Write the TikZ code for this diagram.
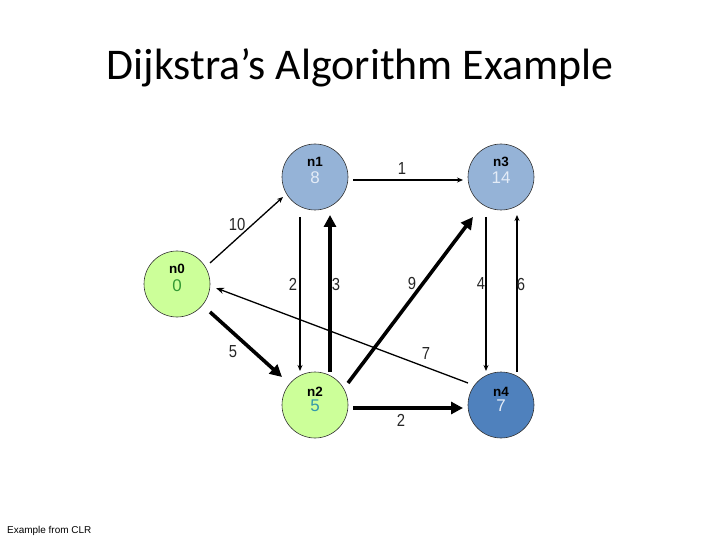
\documentclass[tikz,border=0pt]{standalone}
\usepackage{fontspec}
\setmainfont{Liberation Sans}
\newfontfamily\titlefont{Carlito}
\newfontfamily\narrowfont[FakeStretch=0.85]{Liberation Sans}
\usetikzlibrary{arrows.meta}
\definecolor{nodegreen}{HTML}{CCFF99}
\definecolor{lightblue}{HTML}{95B3D7}
\definecolor{darkblue}{HTML}{4F81BD}
\definecolor{valgreen}{HTML}{339933}
\definecolor{valteal}{HTML}{3399AA}
\definecolor{valwhite}{HTML}{E4ECF7}
\tikzset{
  vertex/.style={circle, draw=black!80, line width=0.6bp, minimum size=66bp, inner sep=0pt},
  vname/.style={font=\fontsize{13.5}{13.5}\selectfont\bfseries, text=black},
  vval/.style={font=\fontsize{17}{17}\selectfont},
  thinarrow/.style={line width=1.3bp, -{Stealth[length=6bp,width=5bp]}},
  thickarrow/.style={line width=3.6bp, -{Triangle[length=12bp,width=12bp]}},
  wlabel/.style={font=\narrowfont\fontsize{17.5}{17.5}\selectfont, text=black!85},
}
\begin{document}
\begin{tikzpicture}[x=1bp,y=-1bp]
\useasboundingbox (0,0) rectangle (720,540);
\node[font=\titlefont\fontsize{44}{44}\selectfont] (title) at (360,68) {Dijkstra’s Algorithm Example};
% vertices
\node[vertex, fill=nodegreen] (n0) at (177,284) {};
\node[vertex, fill=lightblue] (n1) at (315,177) {};
\node[vertex, fill=nodegreen] (n2) at (315,405) {};
\node[vertex, fill=lightblue] (n3) at (501,177) {};
\node[vertex, fill=darkblue] (n4) at (501,405) {};
% vertex texts
\node[vname] (n0name) at (177,269) {n0};
\node[vval, text=valgreen] (n0val) at (177,286) {0};
\node[vname] (n1name) at (315,162) {n1};
\node[vval, text=valwhite] (n1val) at (315,178) {8};
\node[vname] (n2name) at (315,392) {n2};
\node[vval, text=valteal] (n2val) at (315,406) {5};
\node[vname] (n3name) at (501,162) {n3};
\node[vval, text=valwhite] (n3val) at (501,178) {14};
\node[vname] (n4name) at (501,392) {n4};
\node[vval, text=valwhite] (n4val) at (501,406) {7};
% edges
\draw[thinarrow] ([shift={(33,-21)}]n0.center) -- ([shift={(-32,20)}]n1.center);
\draw[thinarrow] ([shift={(38,3)}]n1.center) -- ([shift={(-38,3)}]n3.center);
\draw[thinarrow] ([shift={(-15,40)}]n1.center) -- ([shift={(-15,-34)}]n2.center);
\draw[thickarrow] ([shift={(15,-33)}]n2.center) -- ([shift={(15,38)}]n1.center);
\draw[thickarrow] ([shift={(33,-22)}]n2.center) -- ([shift={(-28,40)}]n3.center);
\draw[thinarrow] ([shift={(-15,40)}]n3.center) -- ([shift={(-15,-34)}]n4.center);
\draw[thinarrow] ([shift={(16,-33)}]n4.center) -- ([shift={(16,38)}]n3.center);
\draw[thinarrow, -{Stealth[length=8bp,width=6bp]}] ([shift={(-33,-22)}]n4.center) -- ([shift={(39,4)}]n0.center);
\draw[thickarrow] ([shift={(33,28)}]n0.center) -- ([shift={(-33,-28)}]n2.center);
\draw[thickarrow] ([shift={(38,3)}]n2.center) -- ([shift={(-38,3)}]n4.center);
% weights
\node[wlabel] (w01) at (237,224) {10};
\node[wlabel] (w13) at (402,169) {1};
\node[wlabel] (w12) at (293,284) {2};
\node[wlabel] (w21) at (336,284) {3};
\node[wlabel] (w23) at (412,283) {9};
\node[wlabel] (w34) at (481,284) {4};
\node[wlabel] (w43) at (521,284) {6};
\node[wlabel] (w40) at (426,354) {7};
\node[wlabel] (w02) at (233,352) {5};
\node[wlabel] (w24) at (401,420) {2};
% footnote
\node[font=\fontsize{10}{10}\selectfont, anchor=west, inner sep=0pt] (foot) at (7,531) {Example from CLR};
\end{tikzpicture}
\end{document}
